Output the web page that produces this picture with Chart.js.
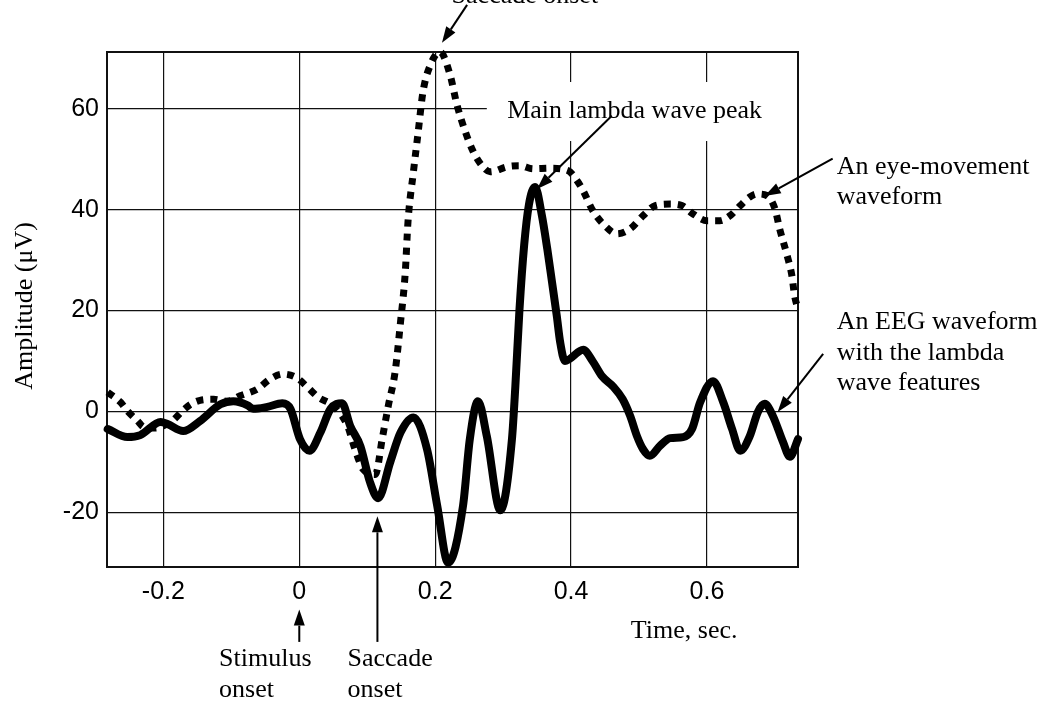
<!DOCTYPE html>
<html>
<head>
<meta charset="utf-8">
<script src="https://cdn.jsdelivr.net/npm/chart.js@4.4.1/dist/chart.umd.min.js"></script>
<style>
  html, body { margin: 0; padding: 0; background: #fff; }
  #wrap { width: 1045px; height: 702px; position: relative; }
</style>
</head>
<body>
<div id="wrap"><canvas id="chart" width="1045" height="702"></canvas></div>
<script>
// EEG waveform (solid line) with lambda wave features
const eegTime = [-0.282, -0.253, -0.234, -0.204, -0.194, -0.171, -0.146, -0.116, -0.097, -0.076,
  -0.068, -0.047, -0.025, -0.013, 0.001, 0.015, 0.031, 0.046, 0.063, 0.075,
  0.090, 0.104, 0.116, 0.134, 0.149, 0.168, 0.188, 0.203, 0.219, 0.241,
  0.251, 0.263, 0.276, 0.296, 0.313, 0.318, 0.324, 0.331, 0.338, 0.347,
  0.357, 0.365, 0.372, 0.379, 0.384, 0.391, 0.418, 0.432, 0.446, 0.462,
  0.476, 0.487, 0.497, 0.506, 0.516, 0.531, 0.546, 0.565, 0.578, 0.590,
  0.609, 0.624, 0.637, 0.649, 0.663, 0.675, 0.685, 0.697, 0.712, 0.722, 0.734];
const eegAmp = [-3.5, -5.1, -4.7, -2.1, -2.5, -3.9, -1.9, 1.4, 2.0, 1.2,
  0.5, 0.9, 1.6, 0.5, -5.5, -7.8, -4.2, 0.5, 1.6, -2.9,
  -6.9, -14.0, -17.2, -10.0, -4.2, -1.2, -7.5, -18.7, -30.0, -18.7,
  -5.5, 2.0, -4.9, -19.6, -5.5, 5.0, 20.0, 33.0, 41.0, 44.5,
  38.9, 32.2, 25.6, 18.9, 13.7, 10.0, 12.2, 9.9, 6.9, 4.9,
  2.4, -0.9, -4.9, -7.5, -8.8, -6.8, -5.3, -5.1, -3.5, 1.8,
  6.0, 1.8, -3.5, -7.8, -4.9, -0.1, 1.5, -0.9, -6.1, -9.0, -5.5];

// Eye-movement waveform (dotted line)
const eyeTime = [-0.282, -0.263, -0.253, -0.238, -0.229, -0.212, -0.201, -0.187, -0.172, -0.160,
  -0.146, -0.126, -0.106, -0.087, -0.062, -0.043, -0.024, -0.003, 0.012, 0.028,
  0.050, 0.071, 0.082, 0.094, 0.112, 0.122, 0.131, 0.141, 0.149, 0.156,
  0.160, 0.168, 0.175, 0.182, 0.193, 0.207, 0.222, 0.232, 0.244, 0.256,
  0.269, 0.281, 0.306, 0.325, 0.344, 0.369, 0.396, 0.409, 0.418, 0.432,
  0.447, 0.468, 0.487, 0.506, 0.524, 0.546, 0.563, 0.579, 0.600, 0.619,
  0.634, 0.649, 0.663, 0.674, 0.688, 0.700, 0.707, 0.718, 0.725, 0.729, 0.734];
const eyeAmp = [3.8, 1.8, 0.1, -1.9, -3.1, -3.3, -2.9, -1.9, 0.1, 1.4,
  2.2, 2.4, 2.0, 3.1, 4.4, 6.4, 7.4, 6.6, 4.8, 2.8,
  1.1, -2.9, -7.5, -11.5, -12.5, -5.5, 1.1, 7.8, 17.7, 27.6,
  37.6, 47.5, 55.4, 63.3, 68.7, 71.3, 66.7, 60.8, 55.6, 51.5,
  48.7, 47.5, 48.5, 48.7, 48.1, 48.2, 47.7, 45.7, 43.7, 39.8,
  37.2, 35.2, 36.2, 38.8, 40.8, 41.1, 40.8, 39.2, 37.8, 37.8,
  38.8, 40.8, 42.5, 43.1, 42.8, 40.2, 36.2, 30.9, 26.9, 22.9, 20.3];

// Axis ticks and ranges
const timeTicks = [-0.2, 0, 0.2, 0.4, 0.6];
const ampTicks = [-20, 0, 20, 40, 60];
const timeRange = [-0.283, 0.734];
const ampRange = [-30.85, 71.25];

// Callout texts, anchored in (time, amplitude) coordinates
const notes = [
  { lines: ['Saccade onset'], t: 0.332, v: 81.0, align: 'center' },
  { lines: ['Main lambda wave peak'], t: 0.306, v: 58.2, align: 'left' },
  { lines: ['An eye-movement', 'waveform'], t: 0.791, v: 47.1, align: 'left' },
  { lines: ['An EEG waveform', 'with the lambda', 'wave features'], t: 0.791, v: 16.3, align: 'left' },
  { lines: ['Stimulus', 'onset'], t: -0.118, v: -50.5, align: 'left' },
  { lines: ['Saccade', 'onset'], t: 0.071, v: -50.5, align: 'left' },
  { lines: ['Time, sec.'], t: 0.488, v: -45.0, align: 'left' }
];
// Callout arrows: from -> tip
const arrows = [
  { from: [0.247, 80.6], to: [0.210, 73.1] },
  { from: [0.460, 58.6], to: [0.350, 44.1] },
  { from: [0.785, 50.1], to: [0.685, 42.7] },
  { from: [0.771, 11.4], to: [0.704, -0.1] },
  { from: [0.0, -45.7], to: [0.0, -39.3] },
  { from: [0.115, -45.7], to: [0.115, -20.8] }
];
// White backing behind the peak caption (time from, amplitude low/high)
const captionBox = { t0: 0.276, v0: 53.6, v1: 65.3 };

const SERIF = '26px "Liberation Serif", "Times New Roman", serif';
const SANS = '"Liberation Sans", Arial, sans-serif';

const figurePlugin = {
  id: 'figure',
  beforeDatasetsDraw(chart) {
    const { ctx, chartArea: a, scales: { x, y } } = chart;
    ctx.save();
    // white panel behind the peak caption
    ctx.fillStyle = '#fff';
    const bx = x.getPixelForValue(captionBox.t0);
    const by0 = y.getPixelForValue(captionBox.v1);
    const by1 = y.getPixelForValue(captionBox.v0);
    ctx.fillRect(bx, by0, a.right - bx - 1, by1 - by0);
    // plot frame
    ctx.strokeStyle = '#111';
    ctx.lineWidth = 2;
    ctx.strokeRect(a.left, a.top, a.right - a.left, a.bottom - a.top);
    ctx.restore();
  },
  afterDatasetsDraw(chart) {
    const { ctx, scales: { x, y } } = chart;
    ctx.save();
    ctx.fillStyle = '#000';
    ctx.strokeStyle = '#000';
    ctx.font = SERIF;
    ctx.textBaseline = 'alphabetic';
    notes.forEach(n => {
      ctx.textAlign = n.align;
      const px = x.getPixelForValue(n.t);
      const py = y.getPixelForValue(n.v);
      n.lines.forEach((s, i) => ctx.fillText(s, px, py + i * 30.5));
    });
    arrows.forEach(ar => {
      const x0 = x.getPixelForValue(ar.from[0]), y0 = y.getPixelForValue(ar.from[1]);
      const x1 = x.getPixelForValue(ar.to[0]), y1 = y.getPixelForValue(ar.to[1]);
      const ang = Math.atan2(y1 - y0, x1 - x0);
      const hl = 16, hw = 5.5;
      const bxp = x1 - hl * Math.cos(ang), byp = y1 - hl * Math.sin(ang);
      ctx.lineWidth = 2;
      ctx.beginPath();
      ctx.moveTo(x0, y0);
      ctx.lineTo(bxp, byp);
      ctx.stroke();
      ctx.beginPath();
      ctx.moveTo(x1, y1);
      ctx.lineTo(bxp + hw * Math.sin(ang), byp - hw * Math.cos(ang));
      ctx.lineTo(bxp - hw * Math.sin(ang), byp + hw * Math.cos(ang));
      ctx.closePath();
      ctx.fill();
    });
    // y-axis title
    ctx.translate(x.getPixelForValue(-0.404), y.getPixelForValue(20.9));
    ctx.rotate(-Math.PI / 2);
    ctx.textAlign = 'center';
    ctx.textBaseline = 'middle';
    ctx.fillText('Amplitude (\u03BCV)', 0, 0);
    ctx.restore();
  }
};

new Chart(document.getElementById('chart'), {
  type: 'line',
  data: {
    datasets: [
      {
        label: 'EEG',
        data: eegTime.map((t, i) => ({ x: t, y: eegAmp[i] })),
        borderColor: '#000',
        borderWidth: 8,
        borderJoinStyle: 'round',
        borderCapStyle: 'round',
        pointRadius: 0,
        fill: false,
        cubicInterpolationMode: 'monotone',
        clip: 6
      },
      {
        label: 'Eye movement',
        data: eyeTime.map((t, i) => ({ x: t, y: eyeAmp[i] })),
        borderColor: '#000',
        borderWidth: 7,
        borderDash: [7, 7],
        borderCapStyle: 'butt',
        pointRadius: 0,
        fill: false,
        cubicInterpolationMode: 'monotone',
        clip: 6
      }
    ]
  },
  options: {
    responsive: false,
    animation: false,
    events: [],
    layout: { padding: { top: 52, right: 247, bottom: 75, left: 0 } },
    plugins: { legend: { display: false }, tooltip: { enabled: false }, title: { display: false } },
    scales: {
      x: {
        type: 'linear',
        min: timeRange[0],
        max: timeRange[1],
        afterBuildTicks: s => { s.ticks = timeTicks.map(v => ({ value: v })); },
        afterFit: s => { s.height = 60; },
        border: { display: false },
        grid: { color: '#111', lineWidth: 1.2, drawTicks: false },
        ticks: {
          autoSkip: false, maxRotation: 0, padding: 10, color: '#000',
          font: { family: SANS, size: 25 },
          callback: v => String(v)
        }
      },
      y: {
        type: 'linear',
        min: ampRange[0],
        max: ampRange[1],
        afterBuildTicks: s => { s.ticks = ampTicks.map(v => ({ value: v })); },
        afterFit: s => { s.width = 107; },
        border: { display: false },
        grid: { color: '#111', lineWidth: 1.2, drawTicks: false },
        ticks: {
          autoSkip: false, padding: 8, color: '#000',
          font: { family: SANS, size: 25 },
          callback: v => String(v)
        }
      }
    }
  },
  plugins: [figurePlugin]
});
</script>
</body>
</html>
